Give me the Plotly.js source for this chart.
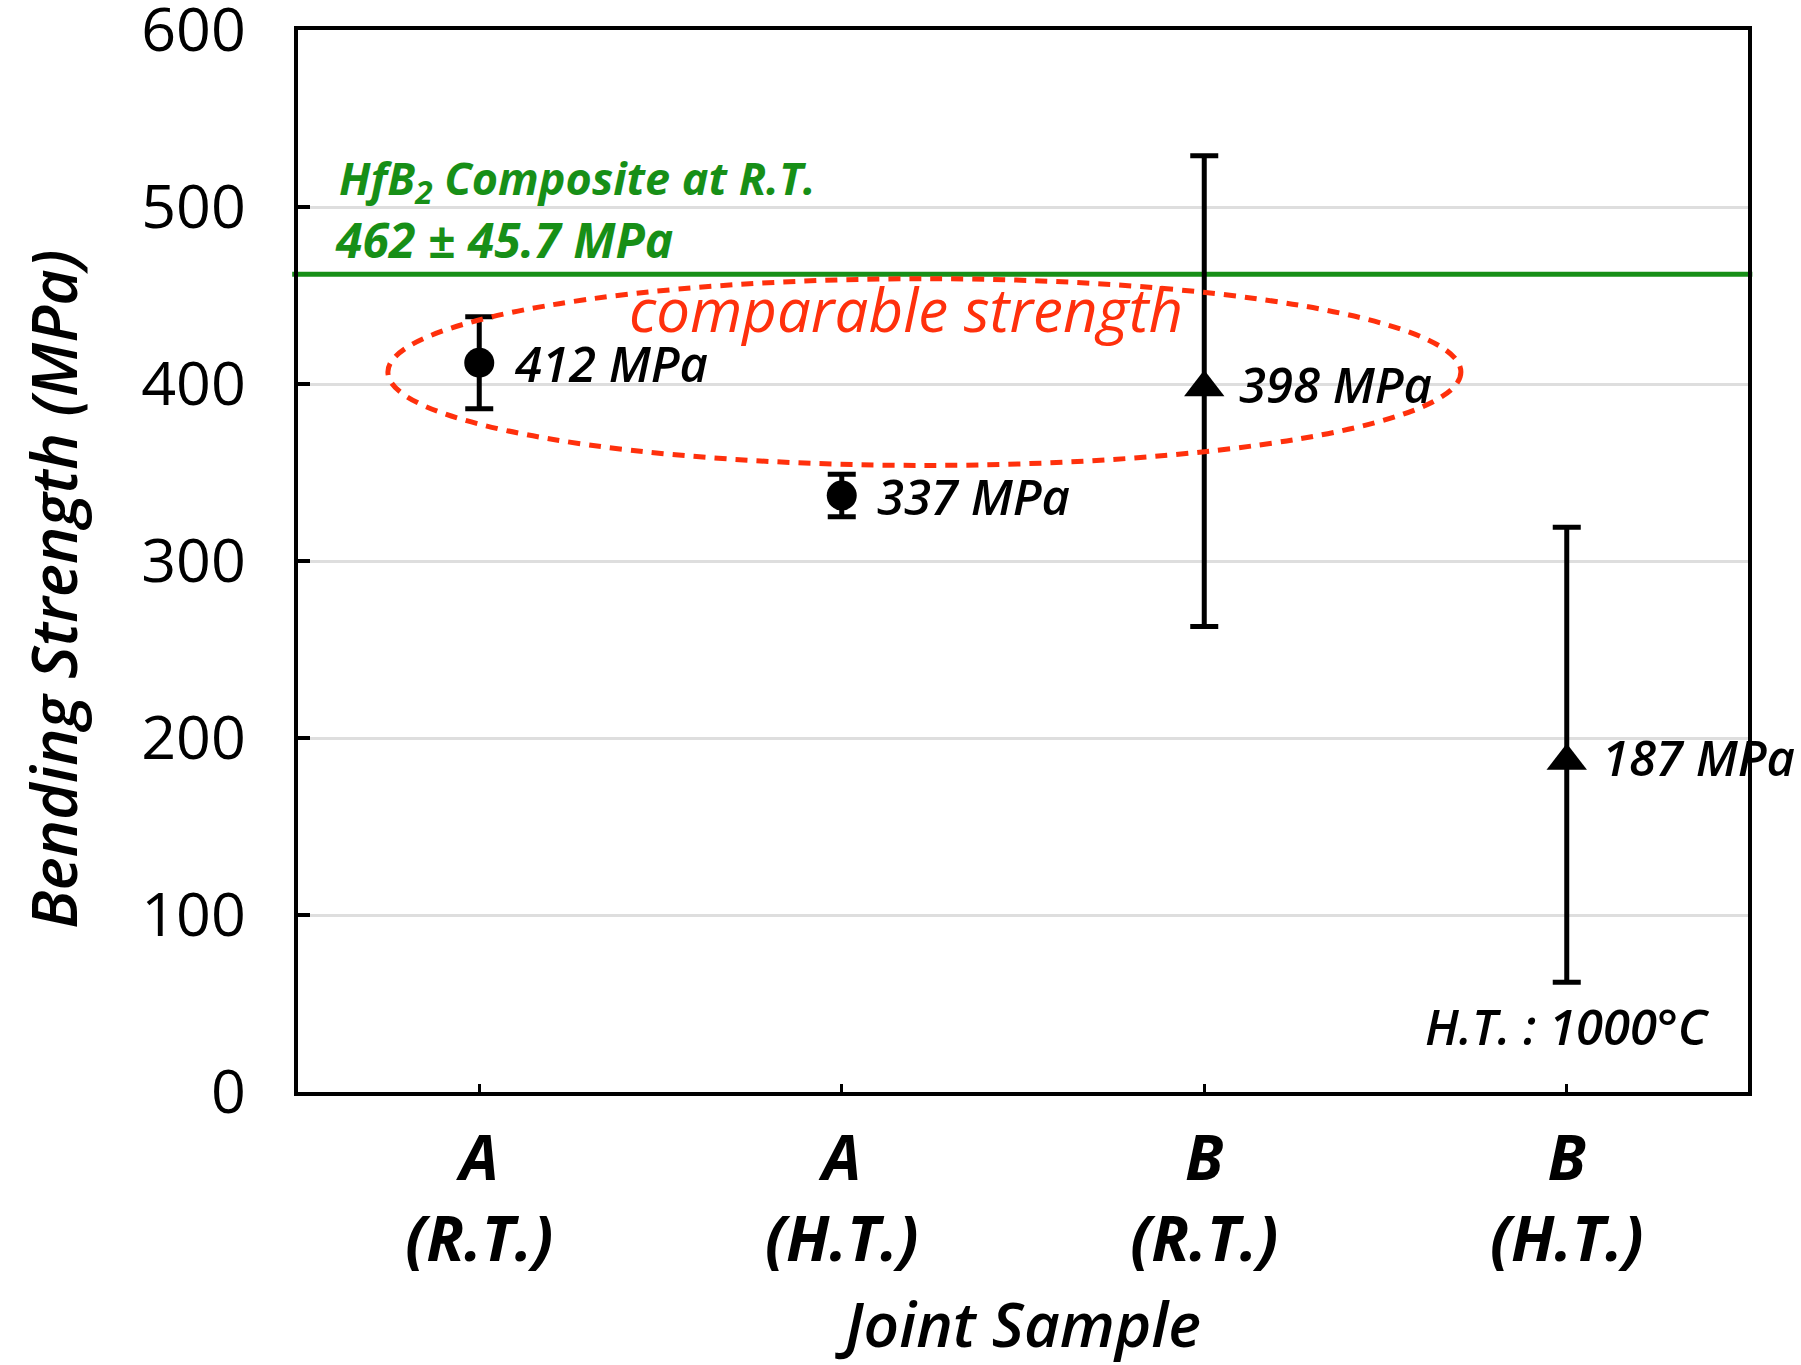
<!DOCTYPE html>
<html><head><meta charset="utf-8">
<script src="https://cdn.plot.ly/plotly-3.0.1.min.js"></script>
<style>html,body{margin:0;padding:0;background:#fff}</style>
</head><body><div id="chart" style="width:1801px;height:1365px"></div>
<script>
const categories = ['A<br>(R.T.)', 'A<br>(H.T.)', 'B<br>(R.T.)', 'B<br>(H.T.)'];
const jointA = ['A<br>(R.T.)', 'A<br>(H.T.)'];
const strengthA = [412, 337];
const errPlusA = [26, 12];
const errMinusA = [26, 12];
const jointB = ['B<br>(R.T.)', 'B<br>(H.T.)'];
const strengthB = [398, 187];
const errPlusB = [131, 132];
const errMinusB = [135, 125];
const referenceStrength = 462;
const referenceStd = 45.7;
const yTicks = [0, 100, 200, 300, 400, 500, 600];
const xTitle = 'Joint Sample';
const yTitle = 'Bending Strength (MPa)';

const FONT = 'Open Sans, Noto Sans, sans-serif';
const GREEN = '#178f17';
const RED = '#ff300c';

const errStyle = {type: 'data', symmetric: false, color: '#000', thickness: 5, width: 14};

const traces = [
  {
    type: 'scatter', mode: 'markers', x: jointA, y: strengthA,
    marker: {symbol: 'circle', size: 30, color: '#000'},
    error_y: Object.assign({array: errPlusA, arrayminus: errMinusA}, errStyle),
    hoverinfo: 'x+y'
  },
  {
    type: 'scatter', mode: 'markers', x: jointB, y: strengthB,
    marker: {symbol: 'triangle-up', size: 35, color: '#000'},
    error_y: Object.assign({array: errPlusB, arrayminus: errMinusB}, errStyle),
    hoverinfo: 'x+y'
  }
];

const labelFont = {family: FONT, size: 49, color: '#000', style: 'italic', weight: 600};
const valueLabels = [];
jointA.forEach((c, i) => valueLabels.push({x: c, y: strengthA[i], text: strengthA[i] + ' MPa', dy: 0}));
jointB.forEach((c, i) => valueLabels.push({x: c, y: strengthB[i], text: strengthB[i] + ' MPa', dy: 4}));

const annotations = valueLabels.map(v => ({
  xref: 'x', yref: 'y', x: v.x, y: v.y, text: v.text, showarrow: false,
  xanchor: 'left', yanchor: 'middle', xshift: 33, yshift: v.dy, font: labelFont
}));

annotations.push(
  {xref: 'paper', yref: 'paper', x: 0.027, y: 0.859, xanchor: 'left', yanchor: 'middle', showarrow: false,
   text: 'HfB<sub>2</sub> Composite at R.T.', font: {family: FONT, size: 45, color: GREEN, style: 'italic', weight: 700}},
  {xref: 'paper', yref: 'paper', x: 0.024, y: 0.803, xanchor: 'left', yanchor: 'middle', showarrow: false,
   text: referenceStrength + ' ± ' + referenceStd + ' MPa', font: {family: FONT, size: 48, color: GREEN, style: 'italic', weight: 700}},
  {xref: 'paper', yref: 'paper', x: 0.419, y: 0.737, xanchor: 'center', yanchor: 'middle', showarrow: false,
   text: 'comparable strength', font: {family: FONT, size: 60, color: RED, style: 'italic'}},
  {xref: 'paper', yref: 'paper', x: 0.975, y: 0.062, xanchor: 'right', yanchor: 'middle', showarrow: false,
   text: 'H.T. : 1000°C', font: {family: FONT, size: 49, color: '#000', style: 'italic', weight: 600}},
  {xref: 'paper', yref: 'paper', x: -0.1697, y: 0.4736, xanchor: 'center', yanchor: 'middle', showarrow: false,
   textangle: -90, text: yTitle, font: {family: FONT, size: 63, color: '#000', style: 'italic', weight: 600}}
);

const layout = {
  width: 1801, height: 1365,
  margin: {l: 298, r: 53, t: 30, b: 273},
  paper_bgcolor: '#fff', plot_bgcolor: '#fff',
  showlegend: false,
  font: {family: FONT, color: '#000'},
  xaxis: {
    type: 'category', categoryorder: 'array', categoryarray: categories,
    range: [-0.5, 3.5], showgrid: false, zeroline: false,
    showline: true, linecolor: '#000', linewidth: 4, mirror: true,
    ticks: 'inside', ticklen: 8, tickwidth: 3, tickcolor: '#000',
    tickfont: {family: FONT, size: 62, color: '#000', style: 'italic', weight: 700},
    ticklabelstandoff: 10,
    title: {text: xTitle, standoff: 32, font: {family: FONT, size: 62, color: '#000', style: 'italic', weight: 600}}
  },
  yaxis: {
    range: [0, 600], tickvals: yTicks, showgrid: true, gridcolor: '#dedede', gridwidth: 3, zeroline: false,
    showline: true, linecolor: '#000', linewidth: 4, mirror: true,
    ticks: 'inside', ticklen: 12, tickwidth: 4, tickcolor: '#000',
    tickfont: {family: FONT, size: 61, color: '#000'},
    ticklabelstandoff: 36, ticklabeloverflow: 'allow'
  },
  shapes: [
    {type: 'line', xref: 'paper', yref: 'y', x0: -0.004, x1: 1.003, y0: referenceStrength, y1: referenceStrength,
     line: {color: GREEN, width: 5}, layer: 'below'},
    {type: 'circle', xref: 'x', yref: 'y', x0: -0.252, x1: 2.708, y0: 354, y1: 459.5,
     line: {color: RED, width: 5, dash: '12px,9px'}, layer: 'above'}
  ],
  annotations: annotations
};

Plotly.newPlot('chart', traces, layout, {displayModeBar: false, staticPlot: true});
</script>
</body></html>
